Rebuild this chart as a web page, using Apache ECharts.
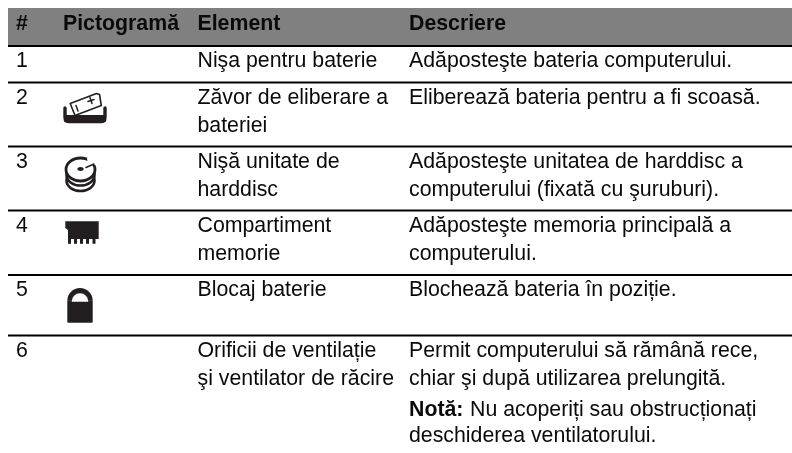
<!DOCTYPE html>
<html><head><meta charset="utf-8">
<style>html,body{margin:0;padding:0;background:#fff}#c{width:792px;height:453px}</style>
<script src="https://cdn.jsdelivr.net/npm/echarts@6/dist/echarts.min.js"></script>
</head><body><div id="c"></div>
<script>
var headers = ['#', 'Pictogramă', 'Element', 'Descriere'];
var numbers = ['1', '2', '3', '4', '5', '6'];
var elements = [
  ['Nişa pentru baterie'],
  ['Zăvor de eliberare a', 'bateriei'],
  ['Nişă unitate de', 'harddisc'],
  ['Compartiment', 'memorie'],
  ['Blocaj baterie'],
  ['Orificii de ventilație', 'şi ventilator de răcire']
];
var descriptions = [
  ['Adăposteşte bateria computerului.'],
  ['Eliberează bateria pentru a fi scoasă.'],
  ['Adăposteşte unitatea de harddisc a', 'computerului (fixată cu şuruburi).'],
  ['Adăposteşte memoria principală a', 'computerului.'],
  ['Blochează bateria în poziție.'],
  ['Permit computerului să rămână rece,', 'chiar şi după utilizarea prelungită.']
];
var noteLabel = 'Notă:';
var noteLines = ['Nu acoperiți sau obstrucționați', 'deschiderea ventilatorului.'];

// layout (pixels, read through the axes below)
var left = 8, right = 792, headTop = 8, headBottom = 45;
var rowLines = [46, 82.5, 146.5, 210.5, 275, 335.5];
var colX = [16, 63, 197.5, 409];
var FONT = '"Liberation Sans", Arial, sans-serif', FS = 21.3, LH = 27.8, INK = '#231f20';

function tx(api, x, base, s, bold) {
  var p = api.coord([x, base - 0.3465 * FS]);
  return {type:'text', x:p[0], y:p[1], style:{text:s, fill:'#0a0a0a', font:(bold?'bold ':'')+FS+'px '+FONT, verticalAlign:'middle', align:'left'}};
}
function rect(api, x0, y0, x1, y1, fill, r) {
  var a = api.coord([x0, y0]), b = api.coord([x1, y1]);
  return {type:'rect', shape:{x:a[0], y:a[1], width:b[0]-a[0], height:b[1]-a[1], r:r||0}, style:{fill:fill}};
}
function poly(api, pts, fill, stroke, lw, open) {
  return {type:open?'polyline':'polygon', shape:{points:pts.map(function(p){return api.coord(p);})},
    style:{fill:open?null:fill, stroke:stroke||null, lineWidth:lw||0, lineJoin:'round', lineCap:'round'}};
}
function ell(api, cx, cy, rx, ry, fill, stroke, lw) {
  var c = api.coord([cx, cy]);
  return {type:'ellipse', shape:{cx:c[0], cy:c[1], rx:rx, ry:ry}, style:{fill:fill, stroke:stroke||null, lineWidth:lw||0}};
}
function half(api, cx, cy, r, fill) {
  var c = api.coord([cx, cy]);
  return {type:'sector', shape:{cx:c[0], cy:c[1], r:r, r0:0, startAngle:Math.PI, endAngle:2*Math.PI}, style:{fill:fill}};
}
var iconDraw = {
  1: function(api){ return [
    poly(api, [[70.2,103.5],[96.5,93.5],[99.5,94.5],[101.3,105.5],[75,115.5]], '#fff', INK, 1.6),
    poly(api, [[76,105.5],[78,111]], null, INK, 1.5, true),
    poly(api, [[88,101.5],[94,99.5]], null, INK, 1.5, true),
    poly(api, [[90,97.5],[92,103.5]], null, INK, 1.5, true),
    poly(api, [[65,108],[65,117],[65.5,120.5],[69,121.5],[101,121.5],[104.5,120.5],[105,117],[105,108]], null, INK, 3.4, true),
    rect(api, 66, 115, 104, 122.7, INK, 0)
  ]; },
  2: function(api){ return [
    ell(api, 80.5, 180.5, 14, 10.5, '#fff', INK, 2.6),
    ell(api, 80.5, 175, 14, 10.5, '#fff', INK, 2.6),
    ell(api, 80.5, 169.5, 14.5, 11.5, '#fff', INK, 2.8),
    poly(api, [[87,158],[97,158],[97,164.5],[88,165.5]], '#fff'),
    poly(api, [[86,167.5],[94,164]], null, INK, 1.5, true),
    ell(api, 80.5, 169, 3.2, 2, INK)
  ]; },
  3: function(api){
    var ch = [
      poly(api, [[65.3,221.3],[98.7,221.3],[98.7,239],[68,239],[68,230],[65.3,228]], INK)
    ];
    [68, 74, 80, 86, 92.5].forEach(function(x){ ch.push(rect(api, x, 238, x+3, 243.8, INK)); });
    return ch;
  },
  4: function(api){ return [
    half(api, 80, 300.7, 12.7, INK),
    rect(api, 67.3, 300.5, 92.7, 322.7, INK, 1),
    half(api, 80, 301.7, 8.4, '#fff')
  ]; }
};
function renderTable(params, api) {
  var ch = [];
  ch.push(rect(api, left, headTop, right, headBottom, '#808080'));
  headers.forEach(function(h, i){ ch.push(tx(api, colX[i], 31.5, h, true)); });
  rowLines.forEach(function(y){ ch.push(rect(api, left, y-0.9, right, y+0.9, '#000')); });
  numbers.forEach(function(n, r){
    var top = rowLines[r];
    ch.push(tx(api, colX[0], top+22.7, n));
    elements[r].forEach(function(s, i){ ch.push(tx(api, colX[2], top+22.7+i*LH, s)); });
    descriptions[r].forEach(function(s, i){ ch.push(tx(api, colX[3], top+22.7+i*LH, s)); });
    if (iconDraw[r]) ch = ch.concat(iconDraw[r](api));
  });
  ch.push(tx(api, colX[3], 417, noteLabel, true));
  ch.push(tx(api, 470, 417, noteLines[0]));
  ch.push(tx(api, colX[3], 443, noteLines[1]));
  return {type:'group', children:ch};
}
var chart = echarts.init(document.getElementById('c'), null, {renderer:'canvas'});
chart.setOption({
  animation:false, backgroundColor:'#fff',
  grid:{left:0, right:0, top:0, bottom:0},
  xAxis:{type:'value', min:0, max:792, show:false},
  yAxis:{type:'value', min:0, max:453, inverse:true, show:false},
  series:[{type:'custom', coordinateSystem:'cartesian2d', renderItem:renderTable, data:[[0,0]], silent:true, clip:false}]
});
</script></body></html>
